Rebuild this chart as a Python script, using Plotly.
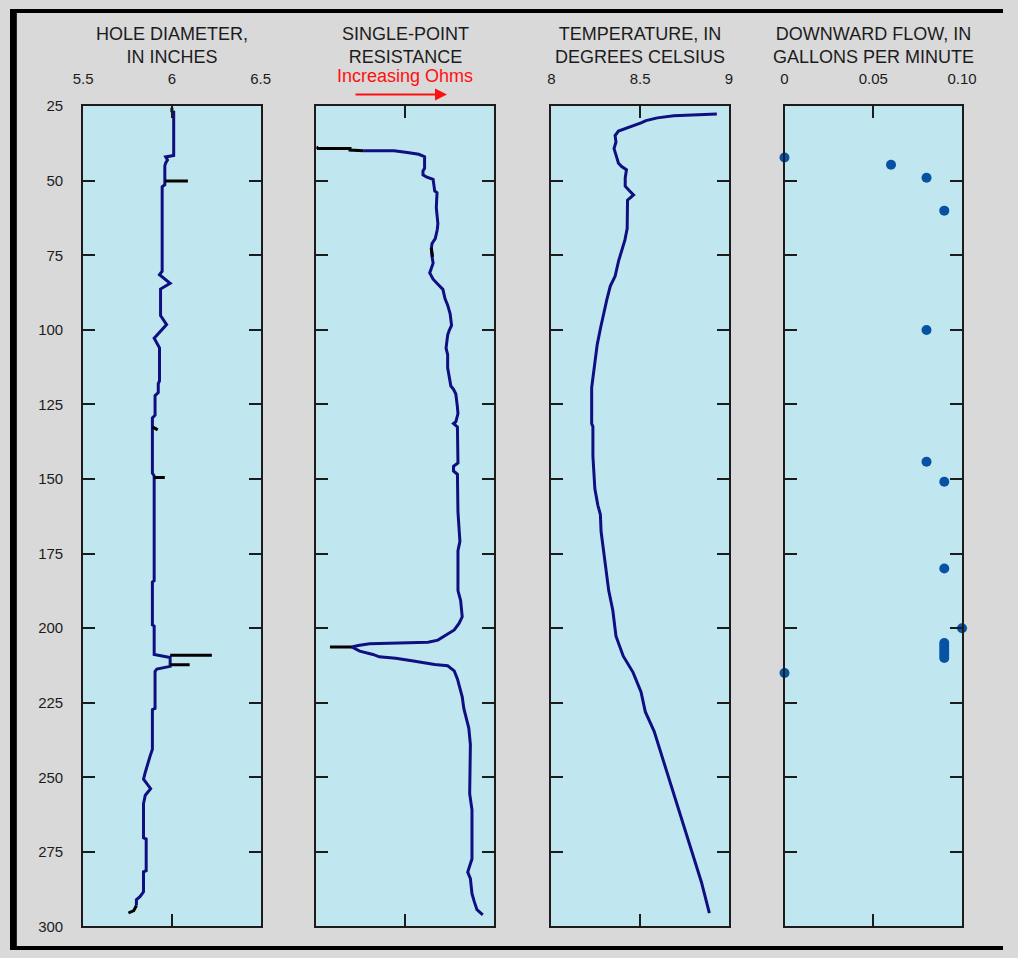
import plotly.graph_objects as go

# Page body keeps an 8 px margin, so the figure is 16 px smaller than the window
# and every pixel position below is (reference position - 8).
W, H = 1018, 958

# ---------------- data ----------------
hole_depth = [26.5, 41.5, 42.0, 43.0, 44.0, 45.0, 51.3, 52.0, 80.3, 81.5, 84.4, 86.3, 95.2, 98.2, 102.8,
              105.0, 106.0, 117.1, 118.0, 121.0, 122.0, 128.6, 129.5, 148.0, 149.0, 184.1, 184.5, 198.9,
              199.3, 208.8, 209.8, 212.8, 213.7, 214.5, 226.9, 227.3, 240.6, 242.9, 245.0, 248.3, 250.6,
              253.8, 256.0, 258.8, 270.3, 270.7, 281.3, 281.7, 288.4, 290.0, 291.0, 293.0]
hole_diam = [6.01, 6.01, 5.965, 5.975, 5.965, 5.96, 5.96, 5.945, 5.945, 5.93, 5.99, 5.936, 5.936, 5.97, 5.90,
             5.923, 5.93, 5.93, 5.923, 5.923, 5.905, 5.905, 5.89, 5.89, 5.90, 5.90, 5.89, 5.89,
             5.90, 5.90, 5.99, 5.99, 5.915, 5.905, 5.905, 5.89, 5.89, 5.877, 5.865, 5.85, 5.84,
             5.88, 5.85, 5.84, 5.84, 5.855, 5.855, 5.84, 5.84, 5.82, 5.80, 5.80]
hole_spike_depth = [25.5, 27.0, None, 50.1, 50.1, None, 132.5, 133.5, None, 149.5, 149.5, None,
                    209.1, 209.1, None, 212.3, 212.3, None, 293.0, 294.7, 295.5]
hole_spike_diam = [6.0, 6.0, None, 5.96, 6.09, None, 5.89, 5.92, None, 5.90, 5.96, None,
                   5.99, 6.225, None, 5.99, 6.10, None, 5.80, 5.785, 5.755]

res_depth = [39.9, 39.9, 40.5, 41.1, 41.9, 45.8, 46.7, 48.0, 48.8, 49.5, 53.4, 54.0, 59.0, 64.4, 66.5,
             69.4, 71.0, 72.7, 75.4, 77.6, 80.9, 83.0, 84.7, 86.4, 89.5, 91.7, 94.6, 98.5, 100.1,
             101.7, 106.1, 108.3, 112.7, 116.0, 118.8, 119.9, 121.5, 125.9, 128.1, 130.8, 131.4,
             132.5, 144.6, 145.7, 147.3, 148.4, 161.0, 170.9, 174.0, 187.4, 190.7, 196.2, 198.4,
             200.6, 202.2, 204.0, 204.7, 204.9, 205.2, 205.8, 206.3, 207.7, 208.8, 209.6, 210.1,
             210.9, 211.6, 212.2, 212.6, 214.3, 217.0, 220.3, 223.0, 226.9, 230.2, 233.5, 239.0,
             247.8, 250.0, 255.5, 260.9, 277.4, 279.0, 281.8, 284.0, 289.0, 291.7, 294.4, 296.1]
res_value = [0.264, 0.438, 0.513, 0.577, 0.610, 0.610, 0.601, 0.601, 0.623, 0.658, 0.667, 0.680, 0.676,
             0.685, 0.681, 0.670, 0.652, 0.648, 0.652, 0.658, 0.639, 0.658, 0.685, 0.713, 0.725,
             0.740, 0.754, 0.762, 0.749, 0.740, 0.731, 0.740, 0.740, 0.751, 0.758, 0.773, 0.786,
             0.795, 0.798, 0.786, 0.773, 0.795, 0.798, 0.773, 0.773, 0.795, 0.798, 0.809, 0.798,
             0.798, 0.813, 0.822, 0.804, 0.777, 0.731, 0.685, 0.630, 0.429, 0.300, 0.236, 0.200,
             0.245, 0.319, 0.355, 0.447, 0.538, 0.612, 0.667, 0.740, 0.777, 0.795, 0.809, 0.822,
             0.831, 0.846, 0.859, 0.868, 0.868, 0.864, 0.864, 0.877, 0.877, 0.868, 0.853, 0.868,
             0.877, 0.890, 0.905, 0.938]
res_black_depth = [38.6, 39.2, 39.2, 39.7, 39.9, None, 72.5, 75.5, None, 206.3, 206.3]
res_black_value = [0.0, 0.01, 0.19, 0.19, 0.264, None, 0.648, 0.655, None, 0.077, 0.20]

temp_depth = [27.6, 27.9, 28.2, 28.9, 29.8, 30.6, 31.5, 32.5, 33.3, 34.8, 37.0, 39.2, 41.4, 44.1, 45.2,
              46.3, 49.0, 51.8, 53.4, 54.7, 56.5, 66.0, 69.9, 73.2, 77.0, 82.0, 85.3, 89.7, 94.1,
              99.6, 105.0, 110.5, 116.0, 119.3, 131.4, 132.4, 142.3, 153.3, 158.8, 161.9, 167.6,
              176.4, 187.4, 194.0, 202.7, 209.4, 214.8, 221.4, 228.0, 234.6, 243.4, 254.4, 264.2,
              275.2, 285.1, 295.5]
temp_c = [8.932, 8.845, 8.689, 8.597, 8.533, 8.505, 8.460, 8.414, 8.378, 8.359, 8.364, 8.353, 8.364,
          8.378, 8.396, 8.423, 8.416, 8.416, 8.441, 8.463, 8.429, 8.427, 8.414, 8.396, 8.378, 8.359,
          8.332, 8.313, 8.295, 8.276, 8.258, 8.245, 8.236, 8.227, 8.227, 8.234, 8.234, 8.245, 8.262,
          8.276, 8.280, 8.299, 8.323, 8.346, 8.364, 8.405, 8.460, 8.505, 8.529, 8.579, 8.625, 8.680,
          8.735, 8.790, 8.845, 8.890]

flow_depth = [42.2, 44.6, 49.0, 60.0, 100.0, 144.2, 150.9, 180.0, 200.0, 205.0, 206.0, 207.0, 208.0,
              209.0, 210.0, 215.0]
flow_gpm = [0.0, 0.06, 0.08, 0.09, 0.08, 0.08, 0.09, 0.09, 0.10, 0.09, 0.09, 0.09, 0.09, 0.09, 0.09, 0.0]

depth_ticks = [25, 50, 75, 100, 125, 150, 175, 200, 225, 250, 275, 300]

titles = ["HOLE DIAMETER,<br>IN INCHES", "SINGLE-POINT<br>RESISTANCE",
          "TEMPERATURE, IN<br>DEGREES CELSIUS", "DOWNWARD FLOW, IN<br>GALLONS PER MINUTE"]
x_ranges = [[5.5, 6.5], [0, 1], [8, 9], [0, 0.10]]
x_tickvals = [[5.5, 6, 6.5], [0, 0.5, 1], [8, 8.5, 9], [0, 0.05, 0.10]]
x_ticktext = [["5.5", "6", "6.5"], ["", "", ""], ["8", "8.5", "9"], ["0", "0.05", "0.10"]]

# ---------------- style ----------------
NAVY = "#0f0f82"
DOT = "#0852a3"
AXC = "#1c1c1c"
FONT = "Liberation Sans, Arial, sans-serif"
OFF = 8
panel_px = [(83 - OFF, 265 - OFF), (322 - OFF, 504 - OFF), (563 - OFF, 745 - OFF), (802 - OFF, 984 - OFF)]
top_px, bot_px = 107 - OFF, 942 - OFF

fig = go.Figure()

fig.add_trace(go.Scatter(x=hole_diam, y=hole_depth, mode="lines", line=dict(color=NAVY, width=3),
                         xaxis="x", yaxis="y", showlegend=False))
fig.add_trace(go.Scatter(x=hole_spike_diam, y=hole_spike_depth, mode="lines", line=dict(color="black", width=3),
                         xaxis="x", yaxis="y", showlegend=False, connectgaps=False))
fig.add_trace(go.Scatter(x=res_value, y=res_depth, mode="lines", line=dict(color=NAVY, width=3),
                         xaxis="x2", yaxis="y2", showlegend=False))
fig.add_trace(go.Scatter(x=res_black_value, y=res_black_depth, mode="lines", line=dict(color="black", width=3),
                         xaxis="x2", yaxis="y2", showlegend=False, connectgaps=False))
fig.add_trace(go.Scatter(x=temp_c, y=temp_depth, mode="lines", line=dict(color=NAVY, width=3),
                         xaxis="x3", yaxis="y3", showlegend=False))
fig.add_trace(go.Scatter(x=flow_gpm, y=flow_depth, mode="markers", marker=dict(color=DOT, size=10),
                         xaxis="x4", yaxis="y4", showlegend=False, cliponaxis=False))

layout = dict(width=W, height=H, autosize=False, margin=dict(l=0, r=0, t=0, b=0),
              paper_bgcolor="#d9d9d9", plot_bgcolor="#c0e7ef", showlegend=False,
              font=dict(family=FONT, color=AXC))

ydom = [1 - bot_px / H, 1 - top_px / H]
for i in range(4):
    sx = "" if i == 0 else str(i + 1)
    x0, x1 = panel_px[i]
    layout["xaxis" + sx] = dict(domain=[x0 / W, x1 / W], range=x_ranges[i], side="top",
                                anchor="y" + sx, tickmode="array", tickvals=x_tickvals[i],
                                ticktext=x_ticktext[i], ticks="inside", ticklen=12, tickwidth=2,
                                tickcolor=AXC, showline=True, linecolor=AXC, linewidth=2,
                                mirror="ticks", showgrid=False, zeroline=False,
                                tickfont=dict(size=15, color=AXC, family=FONT), ticklabelstandoff=14,
                                fixedrange=True)
    layout["yaxis" + sx] = dict(domain=ydom, range=[300, 25], anchor="x" + sx, tickmode="array",
                                tickvals=depth_ticks, ticks="inside", ticklen=12, tickwidth=2,
                                tickcolor=AXC, showline=True, linecolor=AXC, linewidth=2,
                                mirror="ticks", showgrid=False, zeroline=False,
                                showticklabels=(i == 0),
                                tickfont=dict(size=15, color=AXC, family=FONT), ticklabelstandoff=15,
                                fixedrange=True)

annotations = []
for i in range(4):
    cx = (panel_px[i][0] + panel_px[i][1]) / 2
    annotations.append(dict(x=cx / W, y=1 - 13 / H, xref="paper", yref="paper", text=titles[i],
                            showarrow=False, xanchor="center", yanchor="top", align="center",
                            font=dict(size=18, color=AXC, family=FONT)))
annotations.append(dict(x=(413 - OFF) / W, y=1 - (76 - OFF) / H, xref="paper", yref="paper",
                        text="Increasing Ohms", showarrow=False, xanchor="center", yanchor="middle",
                        font=dict(size=18, color="#ff1010", family=FONT)))
annotations.append(dict(x=(456 - OFF) / W, y=1 - (95 - OFF) / H, xref="paper", yref="paper", text="",
                        showarrow=True, ax=-93, ay=0, axref="pixel", ayref="pixel",
                        arrowhead=2, arrowsize=1.2, arrowwidth=2, arrowcolor="#ff1010"))
layout["annotations"] = annotations

def prect(x0, y0, x1, y1, color):
    return dict(type="rect", xref="paper", yref="paper", x0=x0 / W, x1=x1 / W,
                y0=1 - y1 / H, y1=1 - y0 / H, fillcolor=color, line=dict(width=0), layer="below")

layout["shapes"] = [
    prect(0, 0, W, 4, "black"),
    prect(0, 0, 7, H, "black"),
    prect(0, 954, W, H, "black"),
]

fig.update_layout(**layout)
fig.write_html("out.html")
